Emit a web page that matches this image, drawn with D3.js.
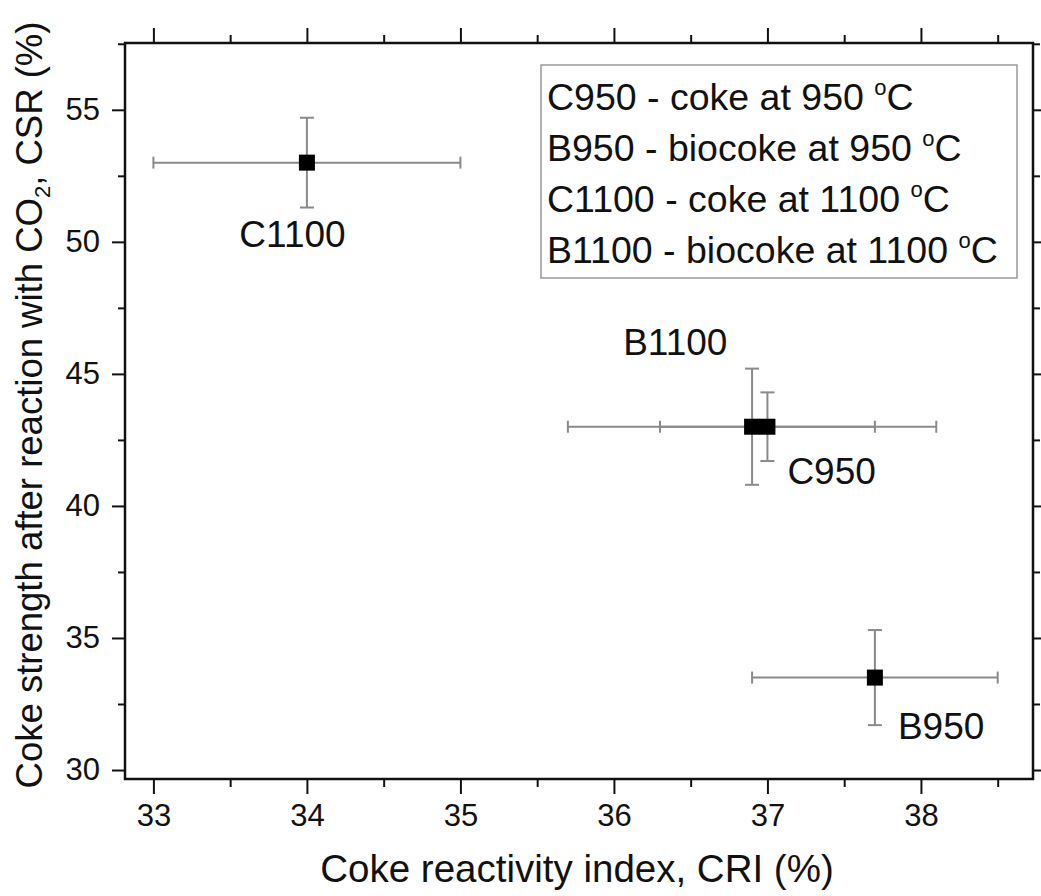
<!DOCTYPE html>
<html>
<head>
<meta charset="utf-8">
<script src="https://cdn.jsdelivr.net/npm/d3@7"></script>
<style>
  html, body { margin: 0; padding: 0; background: #fff; }
  svg text { font-family: "Liberation Sans", Arial, sans-serif; fill: #111; }
</style>
</head>
<body>
<svg id="chart" width="1041" height="896"></svg>
<script>
// ---- data ----
const samples = ["C950", "B950", "C1100", "B1100"];
const cri     = [37.0, 37.7, 34.0, 36.9];     // x values
const csr     = [43.0, 33.5, 53.0, 43.0];     // y values
const criErr  = [0.7, 0.8, 1.0, 1.2];         // x error (±)
const csrErr  = [1.3, 1.8, 1.7, 2.2];         // y error (±)
// label anchor (data coordinates, text start / baseline)
const labelX  = [37.13, 37.85, 33.56, 36.06];
const labelY  = [40.83, 31.17, 49.80, 45.72];

const xTicks = [33, 34, 35, 36, 37, 38];
const yTicks = [30, 35, 40, 45, 50, 55];
const xMinor = [33.5, 34.5, 35.5, 36.5, 37.5, 38.5];
const yMinor = [32.5, 37.5, 42.5, 47.5, 52.5, 57.5];

const legendLines = [
  ["C950 - coke at 950 ", "C"],
  ["B950 - biocoke at 950 ", "C"],
  ["C1100 - coke at 1100 ", "C"],
  ["B1100 - biocoke at 1100 ", "C"]
];

// ---- layout ----
const L = 125, R = 1033, T = 43, B = 779;
const svg = d3.select("#chart");

const x = d3.scaleLinear().domain([32.815, 38.73]).range([L, R]);
const y = d3.scaleLinear().domain([29.66, 57.53]).range([B, T]);

const data = samples.map((s, i) => ({
  name: s, x: cri[i], y: csr[i], ex: criErr[i], ey: csrErr[i], lx: labelX[i], ly: labelY[i]
}));

// ---- axes (ticks outward on all four sides) ----
function styleAxis(g) {
  g.select(".domain").remove();
  g.selectAll(".tick line").attr("stroke", "#111").attr("stroke-width", 2);
}
const fontTick = 31;

const xBottom = svg.append("g").attr("transform", `translate(0,${B})`)
  .call(d3.axisBottom(x).tickValues(xTicks).tickSize(15).tickPadding(10).tickFormat(d3.format("d")));
styleAxis(xBottom);
xBottom.selectAll("text").attr("font-size", fontTick).attr("fill", "#111");
svg.append("g").attr("transform", `translate(0,${B})`)
  .call(d3.axisBottom(x).tickValues(xMinor).tickSize(8).tickFormat(""))
  .call(styleAxis);

const xTop = svg.append("g").attr("transform", `translate(0,${T})`)
  .call(d3.axisTop(x).tickValues(xTicks).tickSize(15).tickFormat(""));
styleAxis(xTop);
svg.append("g").attr("transform", `translate(0,${T})`)
  .call(d3.axisTop(x).tickValues(xMinor).tickSize(8).tickFormat(""))
  .call(styleAxis);

const yLeft = svg.append("g").attr("transform", `translate(${L},0)`)
  .call(d3.axisLeft(y).tickValues(yTicks).tickSize(13).tickPadding(12).tickFormat(d3.format("d")));
styleAxis(yLeft);
yLeft.selectAll("text").attr("font-size", fontTick).attr("fill", "#111");
svg.append("g").attr("transform", `translate(${L},0)`)
  .call(d3.axisLeft(y).tickValues(yMinor).tickSize(7).tickFormat(""))
  .call(styleAxis);

svg.append("g").attr("transform", `translate(${R},0)`)
  .call(d3.axisRight(y).tickValues(yTicks).tickSize(13).tickFormat(""))
  .call(styleAxis);
svg.append("g").attr("transform", `translate(${R},0)`)
  .call(d3.axisRight(y).tickValues(yMinor).tickSize(7).tickFormat(""))
  .call(styleAxis);

// frame
svg.append("rect")
  .attr("x", L).attr("y", T).attr("width", R - L).attr("height", B - T)
  .attr("fill", "none").attr("stroke", "#111").attr("stroke-width", 2.5);

// ---- error bars ----
const errColor = "#8a8a8a";
const capH = 7, capV = 6;
const eb = svg.append("g").attr("stroke", errColor).attr("stroke-width", 2).attr("fill", "none");
data.forEach(d => {
  // horizontal
  eb.append("line").attr("x1", x(d.x - d.ex)).attr("x2", x(d.x + d.ex)).attr("y1", y(d.y)).attr("y2", y(d.y));
  [d.x - d.ex, d.x + d.ex].forEach(v =>
    eb.append("line").attr("x1", x(v)).attr("x2", x(v)).attr("y1", y(d.y) - capV).attr("y2", y(d.y) + capV));
  // vertical
  eb.append("line").attr("x1", x(d.x)).attr("x2", x(d.x)).attr("y1", y(d.y - d.ey)).attr("y2", y(d.y + d.ey));
  [d.y - d.ey, d.y + d.ey].forEach(v =>
    eb.append("line").attr("x1", x(d.x) - capH).attr("x2", x(d.x) + capH).attr("y1", y(v)).attr("y2", y(v)));
});

// ---- points ----
const sq = 16;
svg.append("g").selectAll("rect").data(data).join("rect")
  .attr("x", d => x(d.x) - sq / 2).attr("y", d => y(d.y) - sq / 2)
  .attr("width", sq).attr("height", sq).attr("fill", "#000");

// ---- point labels ----
svg.append("g").selectAll("text").data(data).join("text")
  .attr("x", d => x(d.lx)).attr("y", d => y(d.ly))
  .attr("font-size", 37).text(d => d.name);

// ---- legend ----
const lg = svg.append("g");
lg.append("rect").attr("x", 541).attr("y", 65).attr("width", 476).attr("height", 213)
  .attr("fill", "#fff").attr("stroke", "#999").attr("stroke-width", 1.5);
legendLines.forEach((ln, i) => {
  const t = lg.append("text").attr("x", 547).attr("y", 110 + i * 51).attr("font-size", 37.5);
  t.append("tspan").text(ln[0]);
  t.append("tspan").attr("font-size", 22).attr("dy", -15).text("o");
  t.append("tspan").attr("dy", 15).text(ln[1]);
});

// ---- axis titles ----
svg.append("text").attr("x", 577).attr("y", 882).attr("text-anchor", "middle")
  .attr("font-size", 38.5).text("Coke reactivity index, CRI (%)");

const yt = svg.append("text").attr("transform", `translate(42,405) rotate(-90)`)
  .attr("text-anchor", "middle").attr("font-size", 36.5);
yt.append("tspan").text("Coke strength after reaction with CO");
yt.append("tspan").attr("font-size", 22).attr("dy", 8).text("2");
yt.append("tspan").attr("dy", -8).text(", CSR (%)");
</script>
</body>
</html>
